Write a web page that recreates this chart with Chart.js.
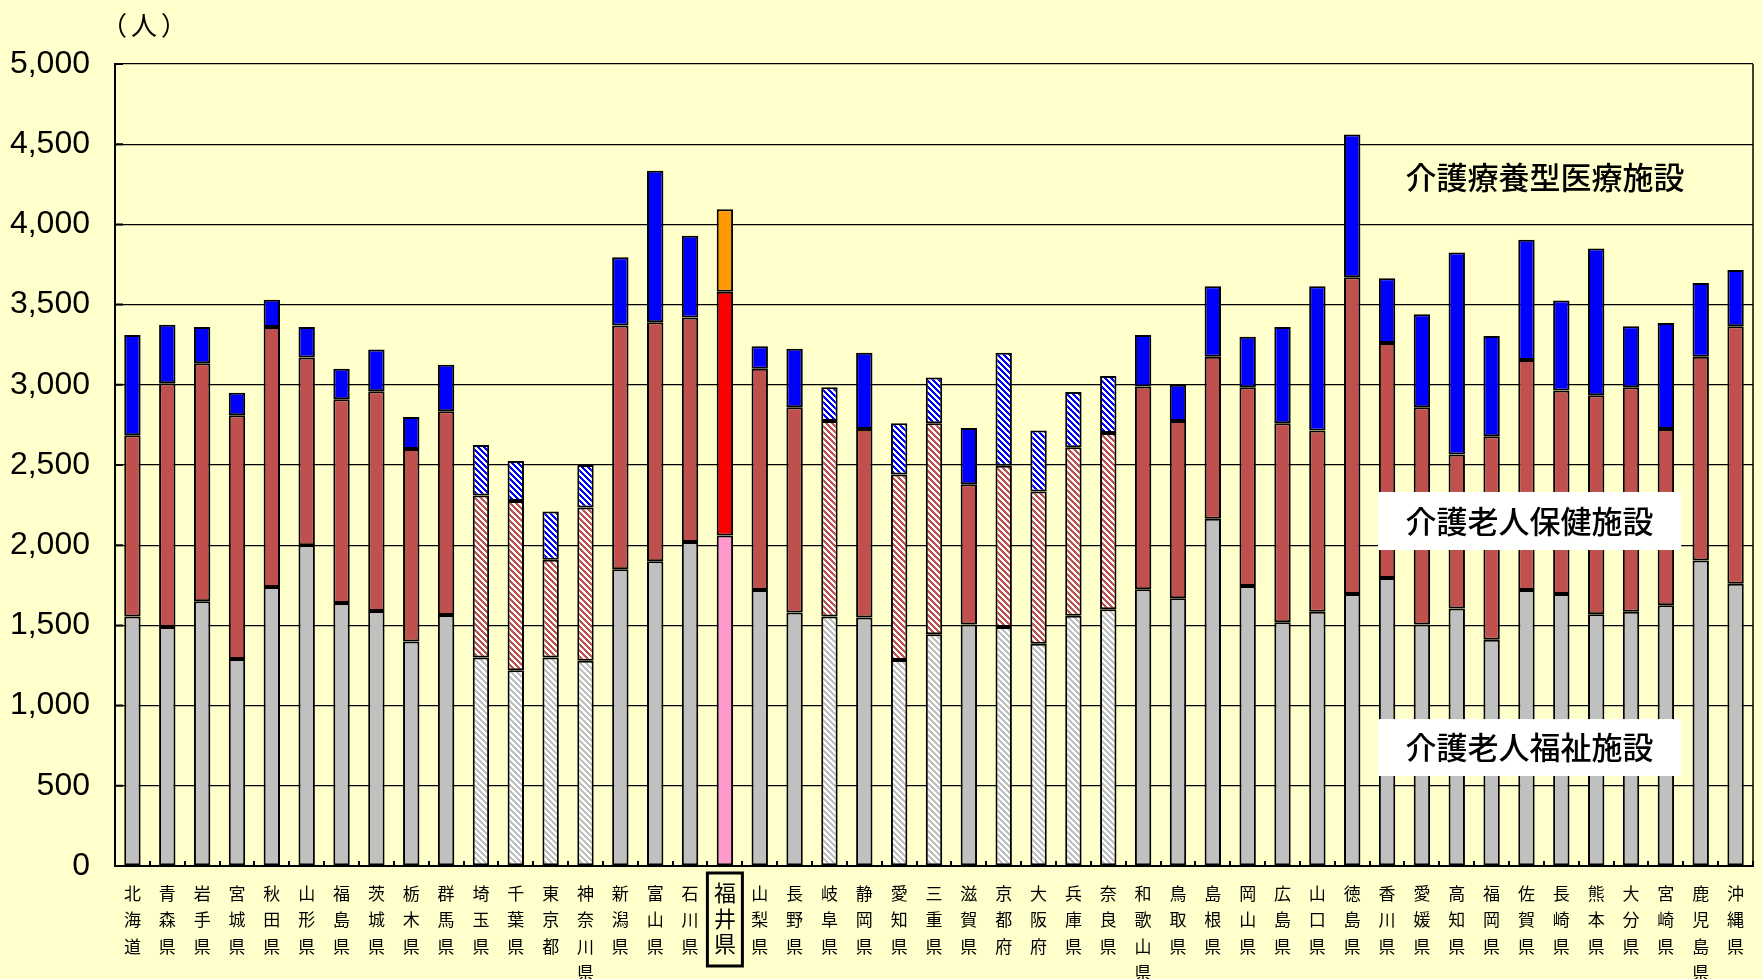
<!DOCTYPE html>
<html lang="ja">
<head>
<meta charset="UTF-8">
<title>都道府県別 介護保険施設定員数</title>
<script src="https://cdn.jsdelivr.net/npm/chart.js"></script>
<style>
  html, body { margin: 0; padding: 0; background: #FFFFCC; }
  canvas { display: block; }
</style>
</head>
<body>
<canvas id="chart" width="1762" height="979"></canvas>
<script>
const prefectures = [
  '北海道', '青森県', '岩手県', '宮城県', '秋田県', '山形県', '福島県', '茨城県', '栃木県', '群馬県',
  '埼玉県', '千葉県', '東京都', '神奈川県', '新潟県', '富山県', '石川県', '福井県', '山梨県', '長野県',
  '岐阜県', '静岡県', '愛知県', '三重県', '滋賀県', '京都府', '大阪府', '兵庫県', '奈良県', '和歌山県',
  '鳥取県', '島根県', '岡山県', '広島県', '山口県', '徳島県', '香川県', '愛媛県', '高知県', '福岡県',
  '佐賀県', '長崎県', '熊本県', '大分県', '宮崎県', '鹿児島県', '沖縄県'
];

// 介護老人福祉施設
const fukushi = [
  1555, 1490, 1650, 1290, 1740, 2000, 1640, 1590, 1400, 1565,
  1300, 1220, 1300, 1280, 1850, 1900, 2020, 2060, 1720, 1580,
  1555, 1550, 1285, 1445, 1505, 1490, 1385, 1560, 1600, 1725,
  1670, 2165, 1745, 1520, 1585, 1695, 1795, 1505, 1605, 1410,
  1720, 1695, 1570, 1585, 1625, 1905, 1760
];

// 介護老人保健施設
const hoken = [
  1130, 1520, 1485, 1520, 1620, 1170, 1270, 1370, 1200, 1270,
  1010, 1055, 610, 955, 1520, 1490, 1400, 1520, 1380, 1280,
  1220, 1175, 1155, 1315, 875, 1005, 950, 1050, 1100, 1265,
  1105, 1010, 1240, 1240, 1130, 1975, 1465, 1355, 960, 1270,
  1435, 1270, 1365, 1400, 1100, 1270, 1605
];

// 介護療養型医療施設
const ryouyou = [
  625, 365, 225, 140, 170, 190, 190, 260, 200, 290,
  315, 250, 300, 265, 425, 945, 510, 515, 140, 365,
  210, 475, 320, 285, 350, 705, 380, 345, 355, 320,
  225, 440, 315, 600, 900, 890, 405, 580, 1260, 625,
  750, 560, 915, 380, 660, 460, 350
];

// 大都市圏は斜線で塗る
const urbanPrefs = ['埼玉県', '千葉県', '東京都', '神奈川県', '岐阜県', '愛知県', '三重県', '京都府', '大阪府', '兵庫県', '奈良県'];
const homePref = '福井県';
const homeIdx = prefectures.indexOf(homePref);

const canvas = document.getElementById('chart');
const ctx = canvas.getContext('2d');

function hatch(color) {
  const n = 6;
  const tile = document.createElement('canvas');
  tile.width = tile.height = n;
  const g = tile.getContext('2d');
  g.fillStyle = '#ffffff';
  g.fillRect(0, 0, n, n);
  g.fillStyle = color;
  for (let y = 0; y < n; y++) {
    for (let x = 0; x < n; x++) {
      if ((((x - y) % n) + n) % n < 3) g.fillRect(x, y, 1, 1);
    }
  }
  return ctx.createPattern(tile, 'repeat');
}

function segColor(solid, home) {
  const striped = hatch(solid);
  return c => {
    const p = prefectures[c.dataIndex];
    if (p === homePref) return home;
    return urbanPrefs.includes(p) ? striped : solid;
  };
}

const FONT_JP = '"Noto Sans CJK JP", sans-serif';

const decor = {
  id: 'decor',
  beforeDraw(chart) {
    const c = chart.ctx;
    c.save();
    c.fillStyle = '#FFFFCC';
    c.fillRect(0, 0, chart.width, chart.height);
    c.restore();
  },
  afterDraw(chart) {
    const c = chart.ctx;
    const a = chart.chartArea;
    const x = chart.scales.x;
    const y = chart.scales.y;
    c.save();

    // right frame line
    c.strokeStyle = '#000';
    c.lineWidth = 1.5;
    c.beginPath();
    c.moveTo(a.right, a.top);
    c.lineTo(a.right, a.bottom);
    c.stroke();

    // short inward ticks between categories
    c.lineWidth = 2;
    c.beginPath();
    for (let i = 0; i <= prefectures.length; i++) {
      const px = Math.round(x.getPixelForValue(i - 0.5));
      c.moveTo(px, a.bottom);
      c.lineTo(px, a.bottom - 5);
    }
    y.ticks.forEach(t => {
      const py = y.getPixelForValue(t.value);
      c.moveTo(a.left, py);
      c.lineTo(a.left + 8, py);
    });
    c.stroke();

    // series captions
    c.font = '500 31px ' + FONT_JP;
    c.textAlign = 'center';
    c.textBaseline = 'middle';
    const boxL = x.getPixelForValue(35.74);
    const boxR = x.getPixelForValue(44.44);
    const captions = [
      { text: '介護療養型医療施設', cx: x.getPixelForValue(40.53), cy: y.getPixelForValue(4295), box: null },
      { text: '介護老人保健施設', cx: (boxL + boxR) / 2, cy: y.getPixelForValue(2150), box: [2332, 1970] },
      { text: '介護老人福祉施設', cx: (boxL + boxR) / 2, cy: y.getPixelForValue(738), box: [916, 561] }
    ];
    captions.forEach(cap => {
      if (cap.box) {
        const t = y.getPixelForValue(cap.box[0]);
        const b = y.getPixelForValue(cap.box[1]);
        c.fillStyle = '#ffffff';
        c.fillRect(boxL, t, boxR - boxL, b - t);
      }
      c.fillStyle = '#000';
      c.fillText(cap.text, cap.cx, cap.cy);
    });

    // frame around the highlighted prefecture name
    const fx = x.getPixelForValue(homeIdx);
    c.strokeStyle = '#000';
    c.lineWidth = 3;
    c.strokeRect(fx - 17.5, a.bottom + 7, 35, 93);

    // unit
    c.font = '26px ' + FONT_JP;
    c.textAlign = 'left';
    c.letterSpacing = '4px';
    c.fillStyle = '#000';
    c.fillText('（人）', 101, 25);
    c.restore();
  }
};

new Chart(ctx, {
  type: 'bar',
  data: {
    labels: prefectures.map(p => p.split('')),
    datasets: [
      { label: '介護老人福祉施設', data: fukushi, backgroundColor: segColor('#C0C0C0', '#FF99CC') },
      { label: '介護老人保健施設', data: hoken, backgroundColor: segColor('#C0504D', '#FF0000') },
      { label: '介護療養型医療施設', data: ryouyou, backgroundColor: segColor('#0000FF', '#FF9900') }
    ]
  },
  options: {
    responsive: false,
    animation: false,
    layout: { padding: { top: 64, right: 9, left: 0, bottom: 0 } },
    datasets: {
      bar: {
        borderColor: '#000',
        borderWidth: 2,
        borderSkipped: false,
        barPercentage: 0.47,
        categoryPercentage: 1.0
      }
    },
    plugins: {
      legend: { display: false },
      tooltip: { enabled: false }
    },
    scales: {
      x: {
        stacked: true,
        grid: { display: false, drawTicks: false },
        border: { display: true, color: '#000', width: 2 },
        ticks: {
          color: '#000',
          maxRotation: 0,
          autoSkip: false,
          padding: 14,
          font: c => c.index === homeIdx
            ? { family: FONT_JP, size: 22, lineHeight: '25.5px' }
            : { family: FONT_JP, size: 17, lineHeight: '26.5px' }
        },
        afterFit: s => { s.height = 113; }
      },
      y: {
        stacked: true,
        min: 0,
        max: 5000,
        grid: { color: '#000', lineWidth: 1.3, drawTicks: false },
        border: { display: true, color: '#000', width: 2 },
        ticks: {
          stepSize: 500,
          color: '#000',
          padding: 25,
          font: { family: '"Liberation Sans", Arial, sans-serif', size: 32 },
          callback: v => v.toLocaleString('en-US')
        },
        afterFit: s => { s.width = 115; }
      }
    }
  },
  plugins: [decor]
});
</script>
</body>
</html>
